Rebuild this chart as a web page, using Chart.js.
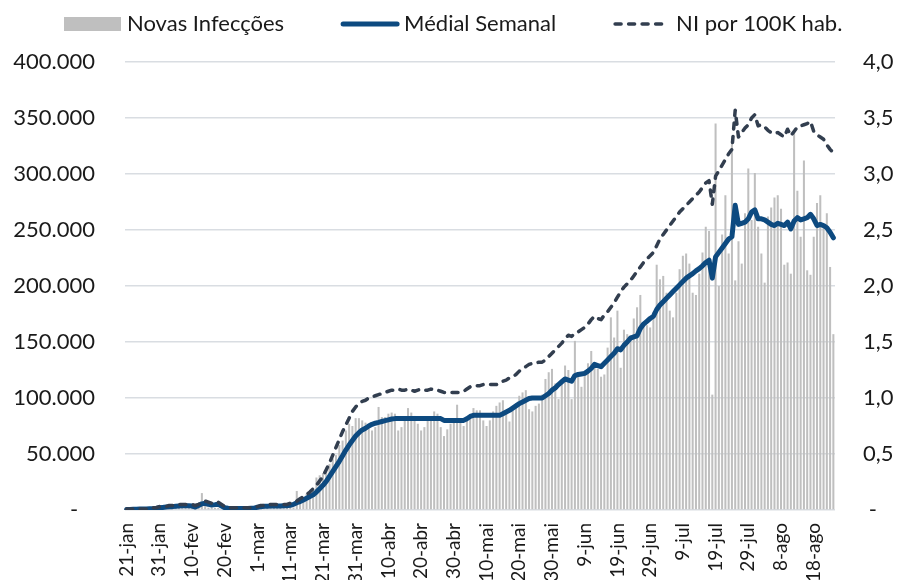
<!DOCTYPE html>
<html>
<head>
<meta charset="utf-8">
<script src="https://cdn.jsdelivr.net/npm/chart.js@4.4.1/dist/chart.umd.min.js"></script>
<style>
  html, body { margin: 0; padding: 0; background: #ffffff; overflow: hidden; }
  #wrap { width: 899px; height: 580px; }
</style>
</head>
<body>
<div id="wrap"><canvas id="grafico" width="899" height="580"></canvas></div>
<script>
// Rótulos mostrados no eixo x (um a cada 10 dias, a partir de 21-jan)
const rotulosEixo = ['21-jan', '31-jan', '10-fev', '20-fev', '1-mar', '11-mar', '21-mar', '31-mar',
  '10-abr', '20-abr', '30-abr', '10-mai', '20-mai', '30-mai', '9-jun', '19-jun', '29-jun',
  '9-jul', '19-jul', '29-jul', '8-ago', '18-ago'];

// Novas infecções diárias (barras, eixo esquerdo)
const novasInfeccoes = [
  300, 100, 550, 650, 700, 800, 1100, 1500, 1800, 1700,
  2000, 2100, 2600, 3000, 3500, 3800, 3600, 3200, 3400, 2700,
  3000, 2500, 2000, 15100, 6500, 2100, 2200, 2000, 1900, 500,
  560, 620, 1750, 370, 490, 870, 920, 1150, 1360, 1750,
  2200, 1800, 2500, 2200, 2800, 3900, 4000, 4000, 3700, 4600,
  7500, 2300, 17000, 11000, 11500, 14500, 16000, 20000, 29000, 31000,
  33000, 38000, 41000, 46000, 49000, 58000, 62000, 71000, 77000, 75000,
  82000, 82000, 80000, 78000, 74000, 71000, 74000, 92000, 83000, 83000,
  86000, 87000, 86000, 71000, 74000, 80000, 91000, 87000, 84000, 77000,
  71000, 74000, 80000, 83000, 88000, 86000, 74000, 66000, 72000, 77000,
  80000, 94000, 78000, 75000, 80000, 84000, 91000, 89000, 89000, 80000,
  75000, 80000, 88000, 93000, 96000, 98000, 86000, 79000, 89000, 95000,
  102000, 105000, 107000, 90000, 88000, 93000, 95000, 103000, 117000, 123000,
  126000, 113000, 99000, 116000, 129000, 125000, 99000, 151000, 120000, 110000,
  123000, 131000, 142000, 129000, 126000, 119000, 121000, 145000, 172000, 154000,
  178000, 127000, 161000, 157000, 156000, 171000, 181000, 192000, 168000, 165000,
  163000, 177000, 219000, 206000, 209000, 194000, 178000, 172000, 194000, 215000,
  227000, 229000, 220000, 194000, 192000, 211000, 230000, 253000, 249000, 103000,
  345000, 200000, 246000, 281000, 229000, 330000, 205000, 240000, 220000, 265000,
  305000, 259000, 301000, 253000, 229000, 203000, 262000, 270000, 279000, 281000,
  269000, 219000, 221000, 211000, 337000, 285000, 244000, 312000, 214000, 210000,
  244000, 274000, 281000, 255000, 265000, 217000, 157000
];

// Média semanal (linha azul, eixo esquerdo)
const mediaSemanal = [
  500, 500, 600, 700, 800, 900, 1000, 1100, 1200, 1300,
  2000, 2300, 2600, 2800, 3000, 3400, 3600, 3800, 3900, 3700,
  3500, 2700, 4000, 5500, 6000, 5000, 4500, 4800, 5200, 3500,
  2000, 1500, 1400, 1300, 1300, 1300, 1300, 1400, 1500, 1600,
  2500, 3000, 3300, 3400, 3500, 3500, 3500, 3600, 3700, 3800,
  4200, 5000, 6500, 7500, 9000, 10500, 12000, 13500, 16000, 19000,
  22000, 25500, 30000, 34500, 39000, 43500, 48500, 53500, 58000, 62000,
  66000, 69000, 71500, 73000, 75000, 76500, 77500, 78200, 79000, 79800,
  80500, 81200, 81600, 81600, 81600, 81600, 81600, 81600, 81600, 81600,
  81600, 81600, 81600, 81600, 81600, 81600, 81600, 80000, 80000, 80000,
  80000, 80000, 80000, 80000, 81500, 83500, 84500, 84500, 84500, 84500,
  84500, 84500, 84500, 84500, 84500, 86000, 87500, 89000, 91000, 93000,
  95000, 96500, 98000, 99500, 100000, 100000, 100000, 100000, 102000, 104000,
  107000, 109000, 112000, 114500, 117000, 116000, 115000, 120000, 121000, 121500,
  122000, 124000, 126500, 130000, 129000, 128000, 131000, 134000, 137000, 140000,
  144000, 143000, 147000, 150000, 153500, 154500, 155500, 162000, 166000, 168500,
  171000, 173000, 179000, 183000, 186000, 189000, 192000, 195000, 198000, 201000,
  204000, 207000, 209000, 211000, 213500, 215500, 218000, 221000, 223000, 207000,
  226000, 230000, 234000, 238000, 242000, 244000, 272000, 255000, 256000, 257000,
  260000, 266000, 268000, 260000, 260000, 259000, 257000, 255000, 254000, 256000,
  255000, 254000, 257000, 251000, 258000, 261000, 259000, 260000, 261000, 264000,
  260000, 254000, 255000, 254000, 252000, 248000, 243000
];

// NI por 100K habitantes (linha tracejada, eixo direito)
const niPor100k = [
  0.01, 0.01, 0.01, 0.01, 0.01, 0.01, 0.01, 0.02, 0.02, 0.02,
  0.03, 0.03, 0.03, 0.04, 0.04, 0.04, 0.05, 0.05, 0.05, 0.05,
  0.05, 0.04, 0.05, 0.07, 0.08, 0.07, 0.06, 0.06, 0.07, 0.05,
  0.03, 0.02, 0.02, 0.02, 0.02, 0.02, 0.02, 0.02, 0.02, 0.02,
  0.03, 0.04, 0.04, 0.04, 0.05, 0.05, 0.05, 0.05, 0.05, 0.05,
  0.06, 0.07, 0.08, 0.10, 0.12, 0.14, 0.16, 0.19, 0.22, 0.26,
  0.30, 0.36, 0.42, 0.49, 0.56, 0.63, 0.70, 0.76, 0.82, 0.88,
  0.92, 0.95, 0.97, 0.98, 1.00, 1.01, 1.02, 1.03, 1.04, 1.05,
  1.06, 1.07, 1.07, 1.08, 1.07, 1.07, 1.08, 1.07, 1.06, 1.07,
  1.08, 1.07, 1.07, 1.08, 1.07, 1.07, 1.06, 1.05, 1.05, 1.05,
  1.05, 1.05, 1.05, 1.06, 1.08, 1.10, 1.11, 1.11, 1.11, 1.12,
  1.12, 1.12, 1.12, 1.12, 1.13, 1.15, 1.16, 1.18, 1.19, 1.21,
  1.24, 1.26, 1.28, 1.30, 1.31, 1.31, 1.32, 1.32, 1.34, 1.37,
  1.40, 1.43, 1.46, 1.49, 1.53, 1.56, 1.55, 1.58, 1.59, 1.61,
  1.63, 1.66, 1.70, 1.73, 1.71, 1.70, 1.74, 1.77, 1.81, 1.85,
  1.90, 1.95, 1.99, 2.02, 2.05, 2.09, 2.13, 2.17, 2.21, 2.24,
  2.27, 2.30, 2.36, 2.42, 2.46, 2.50, 2.54, 2.58, 2.62, 2.66,
  2.69, 2.72, 2.75, 2.78, 2.81, 2.84, 2.88, 2.92, 2.94, 2.73,
  2.98, 3.03, 3.08, 3.13, 3.18, 3.22, 3.57, 3.33, 3.37, 3.41,
  3.44, 3.50, 3.53, 3.43, 3.44, 3.42, 3.39, 3.37, 3.36, 3.37,
  3.35, 3.33, 3.40, 3.34, 3.38, 3.42, 3.43, 3.44, 3.45, 3.47,
  3.38, 3.35, 3.33, 3.31, 3.26, 3.22, 3.19
];

// one category per day; only every 10th day gets a visible label
const dias = novasInfeccoes.map((_, i) => (i % 10 === 0 ? rotulosEixo[i / 10] : ''));

const FONTE = 'Lato, "Open Sans", sans-serif';
const COR_TEXTO = '#1a1a1a';

// Legend drawn on top, one row, Excel-like spacing
const legendaPlugin = {
  id: 'legenda',
  afterDraw(chart) {
    const ctx = chart.ctx;
    const y = 24;
    let x = 64;
    ctx.save();
    ctx.font = '22px ' + FONTE;
    ctx.textBaseline = 'middle';
    chart.data.datasets.forEach((ds) => {
      if (ds.type === 'bar') {
        ctx.fillStyle = ds.backgroundColor;
        ctx.fillRect(x, y - 7, 57, 14);
      } else {
        ctx.strokeStyle = ds.borderColor;
        ctx.lineWidth = ds.borderWidth;
        ctx.lineCap = 'round';
        ctx.setLineDash(ds.borderDash || []);
        ctx.beginPath();
        ctx.moveTo(x + 2, y);
        ctx.lineTo(x + 56, y);
        ctx.stroke();
        ctx.setLineDash([]);
      }
      ctx.fillStyle = COR_TEXTO;
      ctx.fillText(ds.label, x + 63, y);
      x += 63 + ctx.measureText(ds.label).width + 57;
    });
    ctx.restore();
  }
};

const ctx = document.getElementById('grafico').getContext('2d');
const grafico = new Chart(ctx, {
  data: {
    labels: dias,
    datasets: [
      {
        type: 'bar',
        label: 'Novas Infecções',
        data: novasInfeccoes,
        backgroundColor: '#bfbfbf',
        barPercentage: 0.62,
        categoryPercentage: 1.0,
        yAxisID: 'y',
        order: 3
      },
      {
        type: 'line',
        label: 'Médial Semanal',
        data: mediaSemanal,
        borderColor: '#0d4a80',
        borderWidth: 5,
        borderCapStyle: 'round',
        borderJoinStyle: 'round',
        pointRadius: 0,
        tension: 0,
        yAxisID: 'y',
        order: 2
      },
      {
        type: 'line',
        label: 'NI por 100K hab.',
        data: niPor100k,
        borderColor: '#323e4f',
        borderWidth: 3.5,
        borderDash: [6, 7.5],
        borderCapStyle: 'round',
        borderJoinStyle: 'round',
        pointRadius: 0,
        tension: 0,
        yAxisID: 'y1',
        order: 1
      }
    ]
  },
  options: {
    responsive: false,
    animation: false,
    devicePixelRatio: 1,
    layout: { padding: { top: 62, left: 0, right: 0, bottom: 0 } },
    plugins: {
      legend: { display: false },
      tooltip: { enabled: false }
    },
    scales: {
      x: {
        type: 'category',
        offset: true,
        grid: { display: false, drawTicks: false },
        border: { display: false },
        ticks: {
          autoSkip: false,
          maxRotation: 90,
          minRotation: 90,
          padding: 13,
          color: COR_TEXTO,
          font: { family: FONTE, size: 19 }
        },
        afterFit: (scale) => { scale.height = 70; }
      },
      y: {
        position: 'left',
        min: 0,
        max: 400000,
        grid: { color: '#d9dde2', lineWidth: 1.5, drawTicks: false },
        border: { display: false },
        ticks: {
          stepSize: 50000,
          padding: 30,
          color: COR_TEXTO,
          font: { family: FONTE, size: 22 },
          callback: (v) => (v === 0 ? '-   ' : (v / 1000) + '.000')
        },
        afterFit: (scale) => { scale.width = 125; }
      },
      y1: {
        position: 'right',
        min: 0,
        max: 4,
        grid: { display: false, drawTicks: false },
        border: { display: false },
        ticks: {
          stepSize: 0.5,
          padding: 28,
          color: COR_TEXTO,
          font: { family: FONTE, size: 22 },
          callback: (v) => (v === 0 ? ' -' : v.toFixed(1).replace('.', ','))
        },
        afterFit: (scale) => { scale.width = 64; }
      }
    }
  },
  plugins: [legendaPlugin]
});
</script>
</body>
</html>
